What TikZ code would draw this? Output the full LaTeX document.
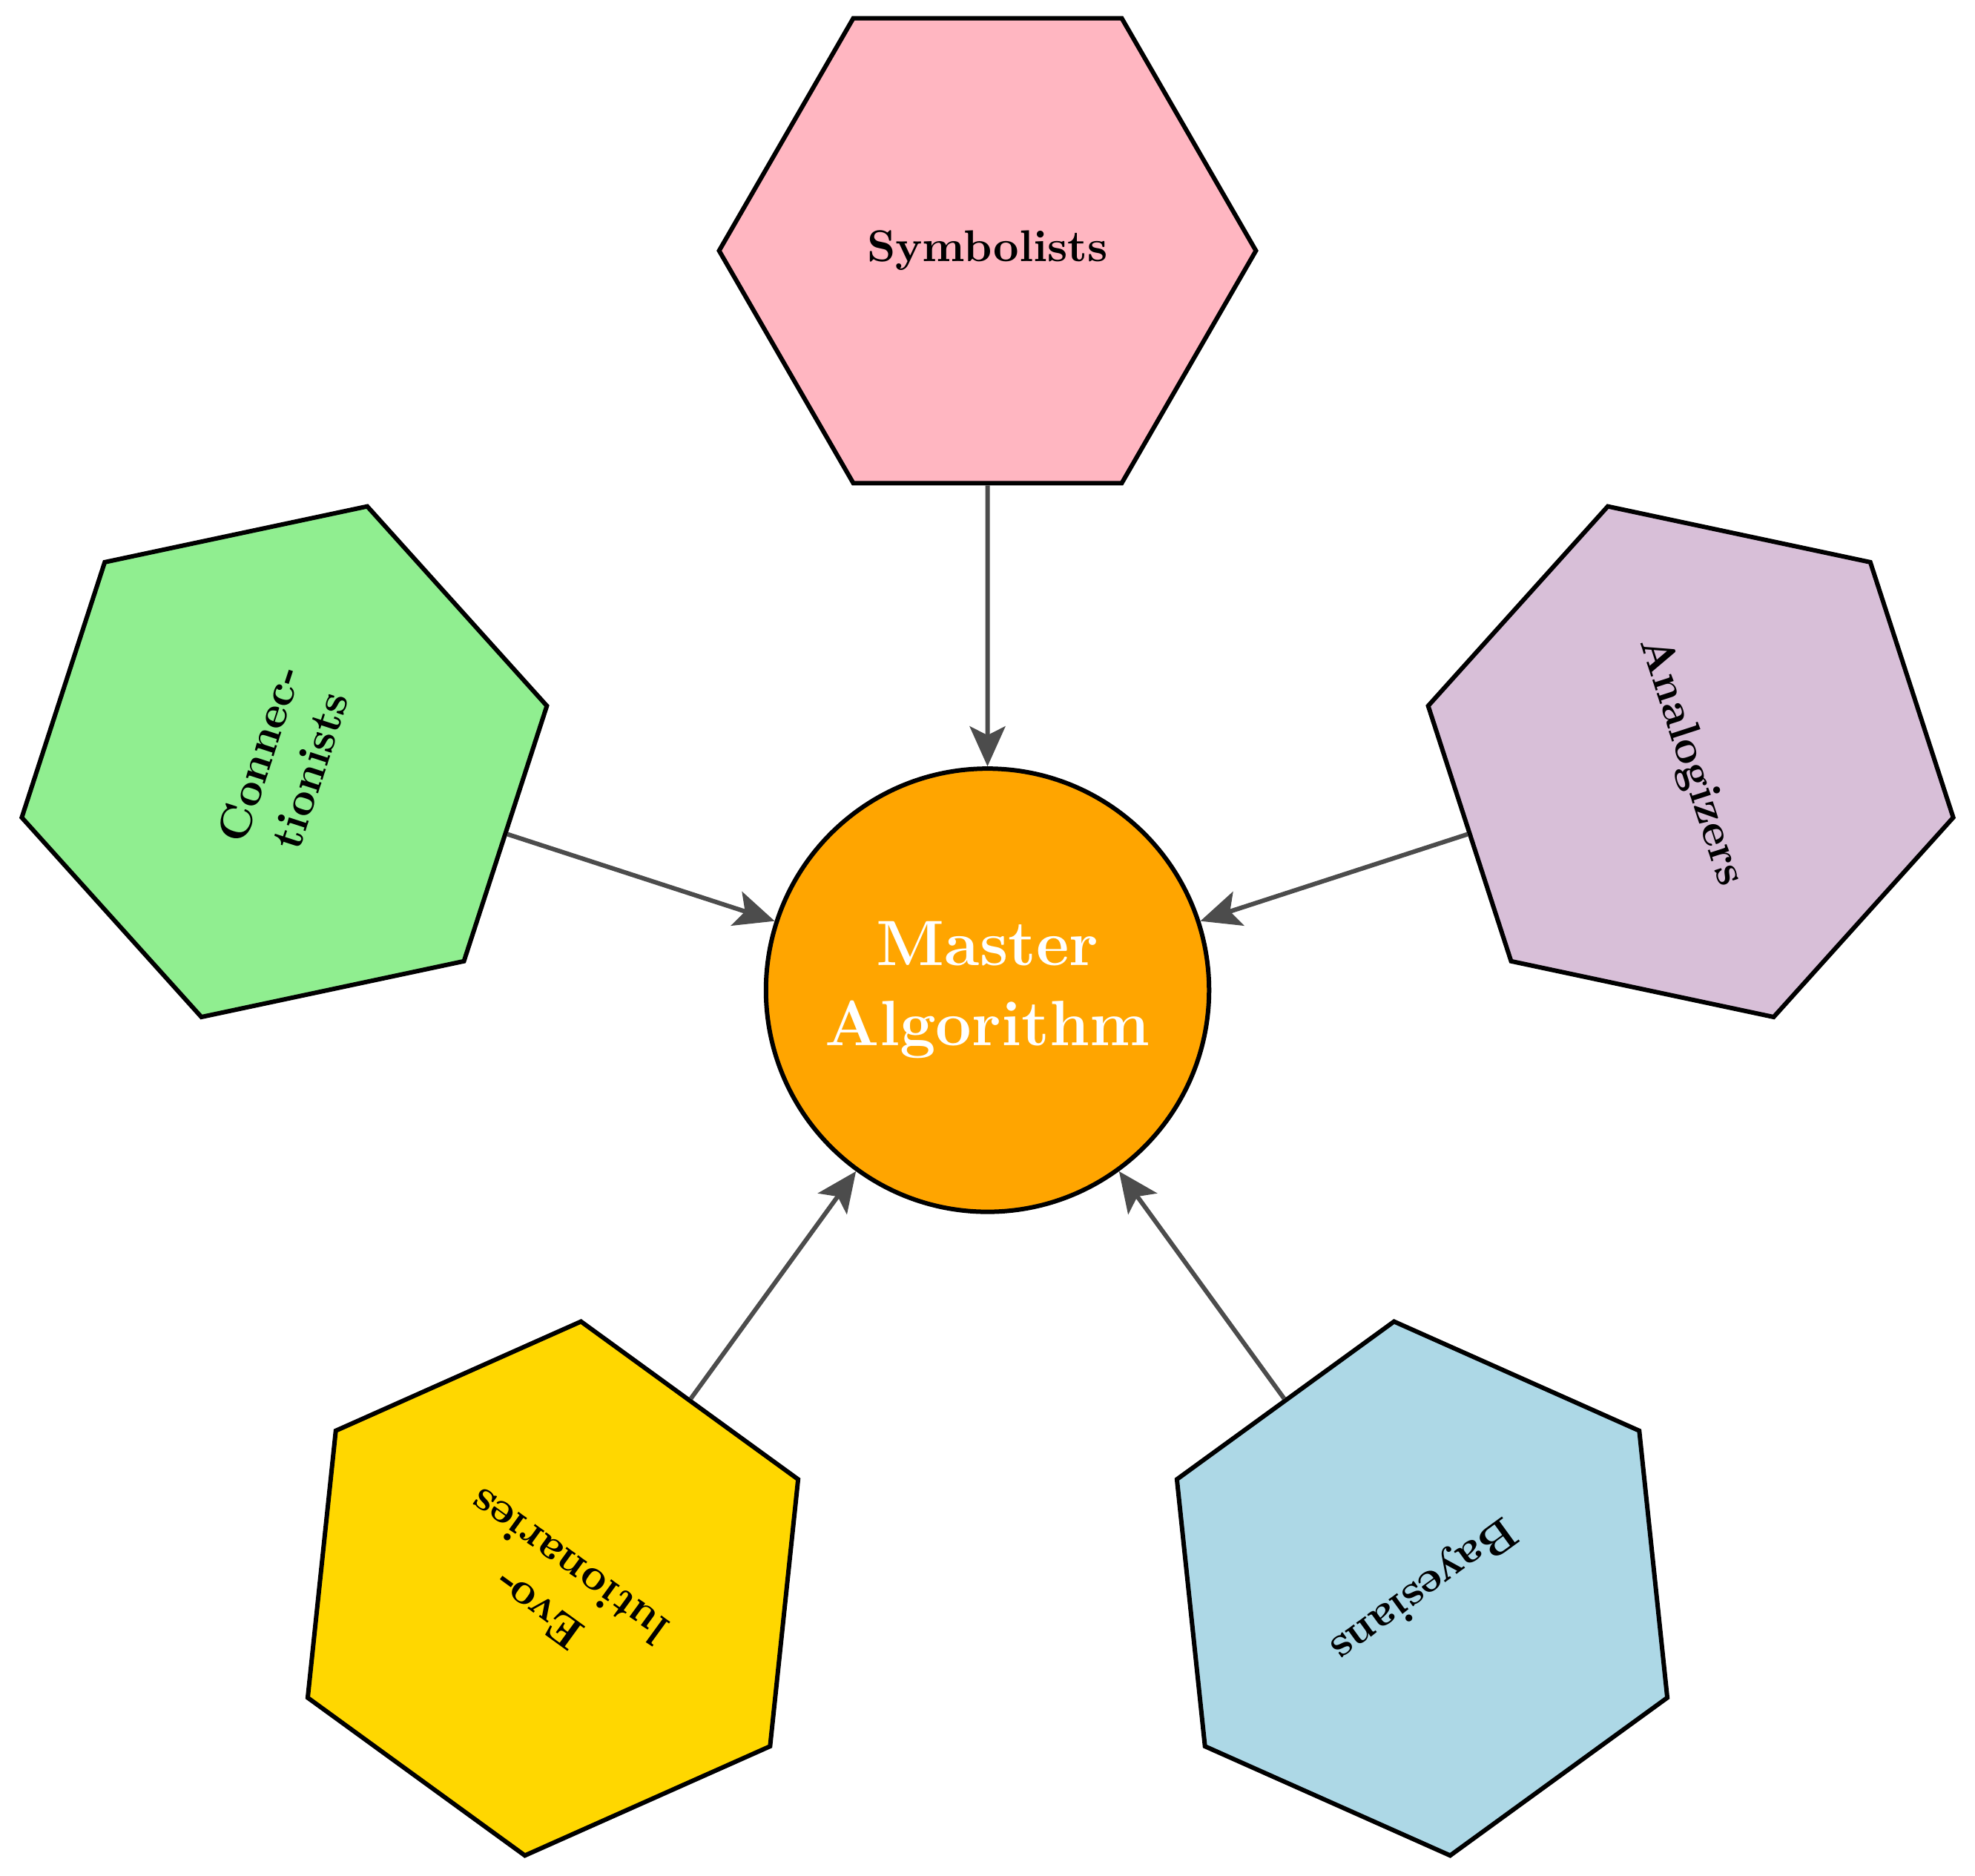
\documentclass[tikz,border=0pt]{standalone}
\usetikzlibrary{shapes.geometric,arrows.meta,calc}
\definecolor{morange}{HTML}{FFA500}
\begin{document}
\begin{tikzpicture}[
 hex/.style={regular polygon,regular polygon sides=6,minimum size=4.24cm,inner sep=0pt,draw=black,line width=1pt,font=\bfseries,align=center},
 arr/.style={draw=black!70,line width=1pt,-{Stealth[length=9pt,width=8pt,inset=2pt]}}]
\useasboundingbox (0,0) rectangle (15.6,14.81);
\coordinate (C) at (7.80,6.99);
\node[circle,draw=black,line width=1pt,fill=morange,minimum size=3.5cm,inner sep=0pt,text=white,font=\bfseries\Large,align=center] (M) at (C) {Master\\Algorithm};
\node[hex,fill={rgb,255:red,255;green,182;blue,193}] (S) at ($(C)+(90:5.84)$) {Symbolists};
\node[hex,fill={rgb,255:red,144;green,238;blue,144},rotate=72] (N) at ($(C)+(162:5.84)$) {Connec-\\tionists};
\node[hex,fill={rgb,255:red,255;green,215;blue,0},rotate=144] (E) at ($(C)+(234:5.84)$) {Evo-\\lutionaries};
\node[hex,fill={rgb,255:red,173;green,216;blue,230},rotate=216] (B) at ($(C)+(306:5.84)$) {Bayesians};
\node[hex,fill={rgb,255:red,216;green,191;blue,216},rotate=288] (A) at ($(C)+(18:5.84)$) {Analogizers};
\foreach \n in {S,N,E,B,A} \draw[arr] (\n) -- (M);
\end{tikzpicture}
\end{document}
